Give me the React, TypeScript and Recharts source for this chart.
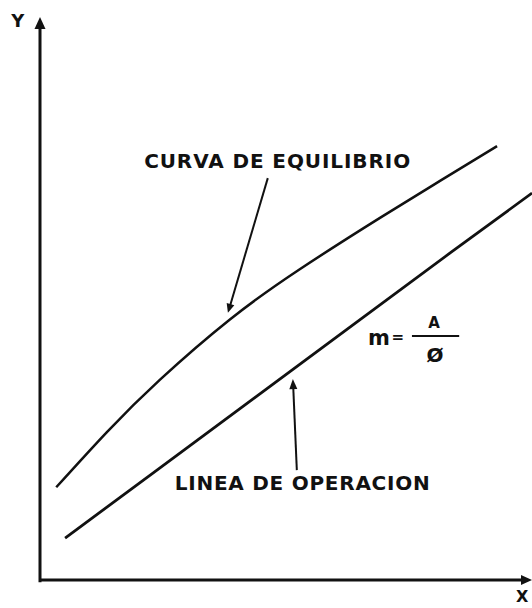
import React from 'react';
import { LineChart, Line, XAxis, YAxis, ReferenceLine, ReferenceDot } from 'recharts';

// Equilibrium curve (CURVA DE EQUILIBRIO)
const equilibriumX = [0.33, 1.36, 2.44, 3.86, 5.28, 6.91, 8.13, 9.29];
const equilibriumY = [1.68, 2.68, 3.63, 4.72, 5.63, 6.56, 7.23, 7.86];
// Operating line (LINEA DE OPERACION)
const operationX = [0.51, 2.24, 4.27, 6.3, 8.33, 10.0];
const operationY = [0.76, 1.9, 3.24, 4.58, 5.92, 7.01];

const curveLabel = 'CURVA DE EQUILIBRIO';
const operationLabel = 'LINEA DE OPERACION';
const xLabel = 'X';
const yLabel = 'Y';
const slopeParts = ['m', '=', 'A', 'Ø'];

const eqData = equilibriumX.map((x, i) => ({ x, y: equilibriumY[i] }));
const opData = operationX.map((x, i) => ({ x, y: operationY[i] }));

const INK = '#111';
const FONT = '"DejaVu Sans", sans-serif';

const arrowShape = (width: number, headLen: number, headHalf: number) => (p: any) => {
  const { x1, y1, x2, y2 } = p;
  const dx = x2 - x1;
  const dy = y2 - y1;
  const len = Math.sqrt(dx * dx + dy * dy) || 1;
  const ux = dx / len;
  const uy = dy / len;
  const bx = x2 - ux * headLen;
  const by = y2 - uy * headLen;
  const px = -uy * headHalf;
  const py = ux * headHalf;
  return (
    <g>
      <line x1={x1} y1={y1} x2={bx + ux} y2={by + uy} stroke={INK} strokeWidth={width} />
      <polygon points={`${x2},${y2} ${bx + px},${by + py} ${bx - px},${by - py}`} fill={INK} />
    </g>
  );
};

const textShape = (text: string, size: number, opts: any = {}) => (p: any) => (
  <text
    x={p.cx}
    y={p.cy}
    textAnchor={opts.anchor || 'middle'}
    dominantBaseline="central"
    fontFamily={FONT}
    fontWeight="bold"
    fontSize={size}
    fill={INK}
    textLength={opts.textLength}
    lengthAdjust={opts.textLength ? 'spacing' : undefined}
  >
    {text}
  </text>
);

export default function App() {
  return (
    <div style={{ position: 'absolute', left: 0, top: 0, background: '#fff' }}>
      <LineChart width={532} height={608} margin={{ top: 28, right: 0, bottom: 28, left: 40 }}>
        <XAxis dataKey="x" type="number" domain={[0, 10]} hide allowDataOverflow />
        <YAxis dataKey="y" type="number" domain={[0, 10]} hide allowDataOverflow />

        {/* axes with arrowheads */}
        <ReferenceLine
          segment={[{ x: 0, y: -0.04 }, { x: 0, y: 10.2 }]}
          ifOverflow="visible"
          shape={arrowShape(3, 12, 5.5)}
        />
        <ReferenceLine
          segment={[{ x: -0.02, y: 0 }, { x: 10, y: 0 }]}
          ifOverflow="visible"
          shape={arrowShape(3, 11, 5)}
        />

        <Line data={eqData} dataKey="y" type="natural" stroke={INK} strokeWidth={2.5} dot={false} isAnimationActive={false} />
        <Line data={opData} dataKey="y" type="linear" stroke={INK} strokeWidth={2.8} dot={false} isAnimationActive={false} />

        {/* annotation arrows */}
        <ReferenceLine
          segment={[{ x: 4.63, y: 7.28 }, { x: 3.82, y: 4.84 }]}
          ifOverflow="visible"
          shape={arrowShape(2, 9, 4)}
        />
        <ReferenceLine
          segment={[{ x: 5.22, y: 1.99 }, { x: 5.14, y: 3.64 }]}
          ifOverflow="visible"
          shape={arrowShape(2, 10, 4)}
        />

        {/* fraction bar of m = A / Ø */}
        <ReferenceLine
          segment={[{ x: 7.56, y: 4.42 }, { x: 8.52, y: 4.42 }]}
          ifOverflow="visible"
          stroke={INK}
          strokeWidth={2}
        />

        {/* texts */}
        <ReferenceDot x={4.82} y={7.59} r={0} ifOverflow="visible" shape={textShape(curveLabel, 20, { textLength: 266 })} />
        <ReferenceDot x={5.33} y={1.76} r={0} ifOverflow="visible" shape={textShape(operationLabel, 20, { textLength: 255 })} />
        <ReferenceDot x={6.89} y={4.38} r={0} ifOverflow="visible" shape={textShape(slopeParts[0], 21)} />
        <ReferenceDot x={7.27} y={4.40} r={0} ifOverflow="visible" shape={textShape(slopeParts[1], 15)} />
        <ReferenceDot x={8.01} y={4.66} r={0} ifOverflow="visible" shape={textShape(slopeParts[2], 15)} />
        <ReferenceDot x={8.03} y={4.08} r={0} ifOverflow="visible" shape={textShape(slopeParts[3], 20)} />
        <ReferenceDot x={-0.45} y={10.14} r={0} ifOverflow="visible" shape={textShape(yLabel, 18)} />
        <ReferenceDot x={9.8} y={-0.3} r={0} ifOverflow="visible" shape={textShape(xLabel, 16)} />
      </LineChart>
    </div>
  );
}
